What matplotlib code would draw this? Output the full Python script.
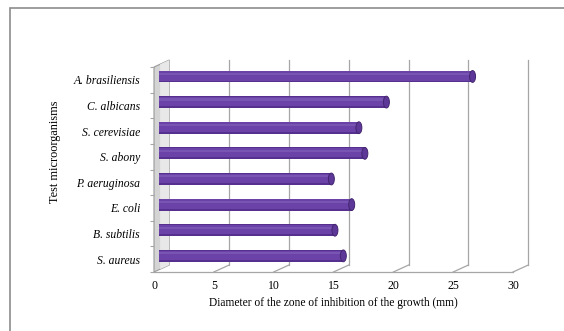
import matplotlib
matplotlib.use("Agg")
import matplotlib.pyplot as plt
from matplotlib.patches import Polygon, Ellipse, Rectangle

plt.rcParams['font.family'] = ['Liberation Serif', 'DejaVu Serif']

# bottom to top
organisms = ['S. aureus', 'B. subtilis', 'E. coli', 'P. aeruginosa',
             'S. abony', 'S. cerevisiae', 'C. albicans', 'A. brasiliensis']
zones = [15.4, 14.7, 16.1, 14.4, 17.2, 16.7, 19.0, 26.2]
xticks = [0, 5, 10, 15, 20, 25, 30]

# fake 3d depth (data units)
dx, dy = 1.28, 0.273
bdx, bdy = 0.42, 0.13
bh = 0.46
grid_c = '#a6a6a6'

fig = plt.figure(figsize=(5.64, 3.31), dpi=100)
fig.patch.set_facecolor('white')
fig.patches.append(Rectangle((10 / 564, -0.2), 1.5, 1.2 - 8 / 331,
                             transform=fig.transFigure, fill=False,
                             edgecolor='#8c8c8c', lw=1.2))

ax = fig.add_axes([154 / 564, 59 / 331, 359 / 564, 205 / 331])
ax.set_xlim(0, 30)
ax.set_ylim(-0.5, 7.5)
for s in ax.spines.values():
    s.set_visible(False)
ax.patch.set_alpha(0)

y0, y1 = -0.5, 7.5
# left wall
ax.add_patch(Polygon([(0, y0), (dx, y0 + dy), (dx, y1 + dy), (0, y1)],
                     closed=True, facecolor='#d4d4d4', edgecolor='#9a9a9a',
                     lw=0.8, clip_on=False, zorder=1))
ax.add_patch(Polygon([(dx * 0.4, y0 + dy * 0.4), (dx, y0 + dy), (dx, y1 + dy),
                      (dx * 0.4, y1 + dy * 0.4)],
                     closed=True, facecolor='#e8e8e8', edgecolor='none',
                     clip_on=False, zorder=1))
# floor front edge
ax.plot([0, 30], [y0, y0], color=grid_c, lw=0.9, clip_on=False, zorder=1)
for v in xticks[1:]:
    ax.plot([v, v + dx], [y0, y0 + dy], color=grid_c, lw=0.9, clip_on=False, zorder=1)
    ax.plot([v + dx, v + dx], [y0 + dy, y1 + dy], color=grid_c, lw=0.9,
            clip_on=False, zorder=1)

# cylinder-ish bars
yb = [i + bdy for i in range(len(zones))]
ax.barh(yb, zones, left=bdx, height=bh, color='#55308f', zorder=3, clip_on=False)
ax.barh([y + bh * 0.05 for y in yb], zones, left=bdx, height=bh * 0.8,
        color='#6b43a8', zorder=4, clip_on=False)
ax.barh([y + bh * 0.22 for y in yb], zones, left=bdx, height=bh * 0.18,
        color='#7955b3', zorder=5, clip_on=False)
for y, v in zip(yb, zones):
    ax.add_patch(Ellipse((v + bdx, y), 0.5, bh, facecolor='#5e3899',
                         edgecolor='#43256f', lw=0.7, zorder=6, clip_on=False))

ax.set_xticks(xticks)
ax.set_xticklabels([str(v) for v in xticks], fontsize=8.5)
ax.tick_params(axis='x', length=0, pad=6)
ax.set_yticks(range(len(organisms)))
ax.set_yticklabels(organisms, fontsize=8.4, style='italic')
ax.tick_params(axis='y', which='major', length=0, pad=10)
ax.set_yticks([i - 0.5 for i in range(len(organisms) + 1)], minor=True)
ax.tick_params(axis='y', which='minor', length=3, color=grid_c, width=0.8)

fig.text(55 / 564, 1 - 152 / 331, 'Test microorganisms', rotation=90,
         ha='center', va='center', fontsize=8.8)
fig.text(333 / 564, 1 - 303 / 331,
         'Diameter of the zone of inhibition of the growth (mm)',
         ha='center', va='center', fontsize=8.3)

fig.savefig('out.png', dpi=100)
